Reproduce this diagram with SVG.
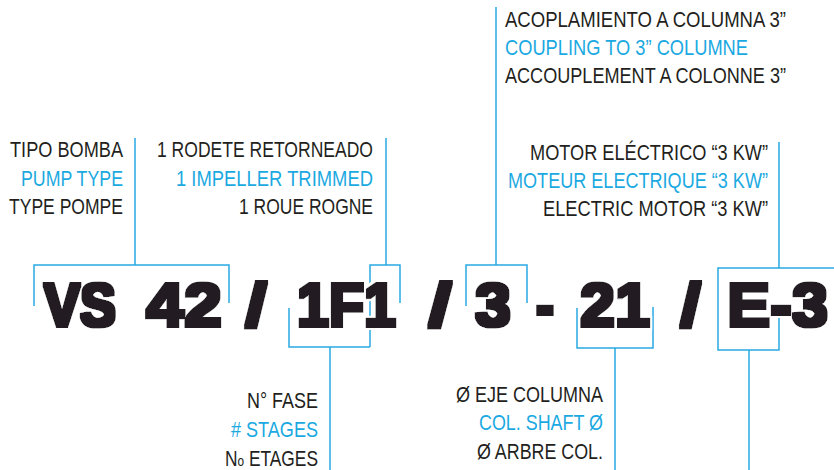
<svg xmlns="http://www.w3.org/2000/svg" width="834" height="470" viewBox="0 0 834 470">
<defs>
<style>
.ln{fill:none;stroke:#29abe2;stroke-width:1.5}
.t{font-family:"Liberation Sans",Arial,sans-serif;font-size:22px;fill:#231f20}
.b{fill:#1ba9e1}
.e{text-anchor:end}
.big{font-family:"Liberation Sans",Arial,sans-serif;font-weight:bold;font-size:62px;fill:#231f20}
</style>
<filter id="heavy" x="-10%" y="-20%" width="120%" height="140%">
<feMorphology in="SourceAlpha" operator="dilate" radius="1.5" result="d1"/>
<feFlood flood-color="#231f20"/>
<feComposite in2="d1" operator="in" result="dark"/>
<feMorphology in="SourceAlpha" operator="dilate" radius="3.5" result="d2"/>
<feFlood flood-color="#ffffff"/>
<feComposite in2="d2" operator="in" result="white"/>
<feMerge><feMergeNode in="white"/><feMergeNode in="dark"/></feMerge>
</filter>
</defs>
<rect width="834" height="470" fill="#fff"/>
<g id="connectors">
<path class="ln" d="M34,306 V265 H229 V303 M135,265 V138"/>
<path class="ln" d="M370,347 V265 H400 V303 M386,265 V138"/>
<path class="ln" d="M466,306 V265 H527 V303 M496,265 V7"/>
<path class="ln" d="M834,268 H718 V350 H779 V315 M779,268 V142"/>
<path class="ln" d="M289,308 V347 H370 M330,347 V470"/>
<path class="ln" d="M577,308 V348 H653 V307 M615,348 V470"/>
<path class="ln" d="M749,350 V470"/>
</g>
<g id="code" filter="url(#heavy)">
<text class="big" x="44" y="326" textLength="72" lengthAdjust="spacingAndGlyphs">VS</text>
<text class="big" x="146" y="326" textLength="76" lengthAdjust="spacingAndGlyphs">42</text>
<text class="big" x="245" y="326" textLength="22" lengthAdjust="spacingAndGlyphs">/</text>
<text class="big" x="297" y="326" textLength="99" lengthAdjust="spacingAndGlyphs">1F1</text>
<text class="big" x="428" y="326" textLength="24" lengthAdjust="spacingAndGlyphs">/</text>
<text class="big" x="475" y="326" textLength="36" lengthAdjust="spacingAndGlyphs">3</text>
<text class="big" x="536" y="326" textLength="18" lengthAdjust="spacingAndGlyphs">-</text>
<text class="big" x="580" y="326" textLength="70" lengthAdjust="spacingAndGlyphs">21</text>
<text class="big" x="680" y="326" textLength="21" lengthAdjust="spacingAndGlyphs">/</text>
<text class="big" x="727" y="326" textLength="101" lengthAdjust="spacingAndGlyphs">E-3</text>
</g>
<g id="pump-type">
<text class="t e" x="123" y="157" textLength="113" lengthAdjust="spacingAndGlyphs">TIPO BOMBA</text>
<text class="t e b" x="123" y="186" textLength="102" lengthAdjust="spacingAndGlyphs">PUMP TYPE</text>
<text class="t e" x="123" y="214" textLength="114" lengthAdjust="spacingAndGlyphs">TYPE POMPE</text>
</g>
<g id="impeller">
<text class="t e" x="373" y="157" textLength="216" lengthAdjust="spacingAndGlyphs">1 RODETE RETORNEADO</text>
<text class="t e b" x="373" y="186" textLength="197" lengthAdjust="spacingAndGlyphs">1 IMPELLER TRIMMED</text>
<text class="t e" x="373" y="214" textLength="134" lengthAdjust="spacingAndGlyphs">1 ROUE ROGNE</text>
</g>
<g id="coupling">
<text class="t" x="505" y="27" textLength="281" lengthAdjust="spacingAndGlyphs">ACOPLAMIENTO A COLUMNA 3”</text>
<text class="t b" x="505" y="55" textLength="243" lengthAdjust="spacingAndGlyphs">COUPLING TO 3” COLUMNE</text>
<text class="t" x="505" y="83" textLength="281" lengthAdjust="spacingAndGlyphs">ACCOUPLEMENT A COLONNE 3”</text>
</g>
<g id="motor">
<text class="t e" x="768" y="160" textLength="238" lengthAdjust="spacingAndGlyphs">MOTOR ELÉCTRICO “3 KW”</text>
<text class="t e b" x="768" y="188" textLength="260" lengthAdjust="spacingAndGlyphs">MOTEUR ELECTRIQUE “3 KW”</text>
<text class="t e" x="768" y="216" textLength="225" lengthAdjust="spacingAndGlyphs">ELECTRIC MOTOR “3 KW”</text>
</g>
<g id="stages">
<text class="t e" x="318" y="408" textLength="71" lengthAdjust="spacingAndGlyphs">N° FASE</text>
<text class="t e b" x="318" y="437" textLength="87" lengthAdjust="spacingAndGlyphs"># STAGES</text>
<text class="t e" x="318" y="466" textLength="93" lengthAdjust="spacingAndGlyphs">N<tspan font-size="15">o</tspan> ETAGES</text>
</g>
<g id="shaft">
<text class="t e" x="603" y="402" textLength="147" lengthAdjust="spacingAndGlyphs">Ø EJE COLUMNA</text>
<text class="t e b" x="603" y="430" textLength="124" lengthAdjust="spacingAndGlyphs">COL. SHAFT Ø</text>
<text class="t e" x="603" y="459" textLength="126" lengthAdjust="spacingAndGlyphs">Ø ARBRE COL.</text>
</g>
</svg>
